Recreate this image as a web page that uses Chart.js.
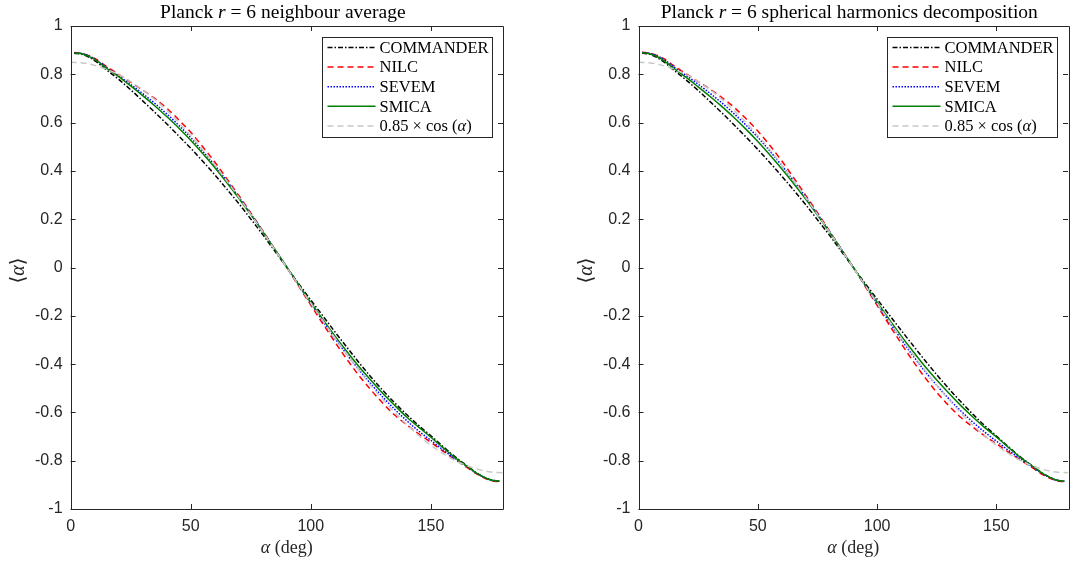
<!DOCTYPE html>
<html lang="en">
<head>
<meta charset="UTF-8">
<title>Planck r = 6 mean alpha</title>
<script src="https://cdn.jsdelivr.net/npm/chart.js"></script>
<style>
  body { margin: 0; background: #fff; }
  .panel { position: absolute; top: 0; width: 535px; height: 562px; }
</style>
</head>
<body>
<div class="panel" style="left:0"><canvas id="leftChart" width="535" height="562"></canvas></div>
<div class="panel" style="left:535px"><canvas id="rightChart" width="535" height="562"></canvas></div>
<script>
// angles (deg) where the map curves are sampled
const alpha = [1.5, 5, 10, 15, 20, 25, 30, 35, 40, 45, 50, 55, 60, 65, 70, 75, 80, 85, 90,
  95, 100, 105, 110, 115, 120, 125, 130, 135, 140, 145, 150, 155, 160, 165, 170, 175, 178.5];
// angles for the reference cosine curve
const cosX = [0, 5, 10, 15, 20, 25, 30, 35, 40, 45, 50, 55, 60, 65, 70, 75, 80, 85, 90,
  95, 100, 105, 110, 115, 120, 125, 130, 135, 140, 145, 150, 155, 160, 165, 170, 175, 180];
const cosRef = [0.850, 0.847, 0.837, 0.821, 0.799, 0.770, 0.736, 0.696, 0.651, 0.601, 0.546, 0.488, 0.425, 0.359, 0.291, 0.220, 0.148, 0.074, 0.000,
  -0.074, -0.148, -0.220, -0.291, -0.359, -0.425, -0.488, -0.546, -0.601, -0.651, -0.696, -0.736, -0.770, -0.799, -0.821, -0.837, -0.847, -0.850];

// left panel: neighbour average
const commanderL = [0.887, 0.882, 0.857, 0.818, 0.779, 0.736, 0.690, 0.643, 0.595, 0.545, 0.494, 0.440, 0.384, 0.325, 0.265, 0.201, 0.136, 0.068, 0.000,
  -0.068, -0.135, -0.200, -0.266, -0.330, -0.393, -0.453, -0.509, -0.561, -0.610, -0.655, -0.697, -0.741, -0.783, -0.821, -0.857, -0.880, -0.885];
const nilcL = [0.890, 0.886, 0.866, 0.832, 0.800, 0.768, 0.735, 0.700, 0.660, 0.612, 0.560, 0.500, 0.437, 0.368, 0.298, 0.226, 0.152, 0.076, 0.000,
  -0.078, -0.156, -0.233, -0.308, -0.380, -0.447, -0.507, -0.562, -0.612, -0.652, -0.690, -0.724, -0.760, -0.795, -0.828, -0.860, -0.882, -0.887];
const sevemL = [0.889, 0.885, 0.864, 0.828, 0.794, 0.758, 0.720, 0.680, 0.636, 0.589, 0.538, 0.482, 0.423, 0.359, 0.292, 0.222, 0.150, 0.076, 0.001,
  -0.074, -0.149, -0.222, -0.293, -0.360, -0.423, -0.482, -0.537, -0.588, -0.635, -0.678, -0.716, -0.755, -0.791, -0.825, -0.858, -0.880, -0.885];
const smicaL = [0.888, 0.884, 0.862, 0.825, 0.790, 0.752, 0.712, 0.670, 0.625, 0.578, 0.527, 0.472, 0.414, 0.352, 0.287, 0.219, 0.148, 0.075, 0.002,
  -0.072, -0.145, -0.215, -0.283, -0.348, -0.410, -0.467, -0.522, -0.572, -0.620, -0.662, -0.703, -0.746, -0.787, -0.823, -0.858, -0.880, -0.884];

// right panel: spherical harmonics decomposition
const commanderR = [0.888, 0.882, 0.856, 0.816, 0.776, 0.733, 0.687, 0.640, 0.591, 0.541, 0.489, 0.435, 0.379, 0.321, 0.261, 0.198, 0.134, 0.067, 0.000,
  -0.066, -0.131, -0.195, -0.259, -0.322, -0.384, -0.444, -0.501, -0.555, -0.606, -0.654, -0.698, -0.742, -0.784, -0.821, -0.856, -0.880, -0.886];
const nilcR = [0.891, 0.887, 0.868, 0.834, 0.802, 0.770, 0.738, 0.703, 0.664, 0.617, 0.565, 0.506, 0.442, 0.372, 0.300, 0.227, 0.152, 0.076, 0.000,
  -0.078, -0.157, -0.236, -0.313, -0.387, -0.455, -0.517, -0.572, -0.620, -0.660, -0.697, -0.730, -0.764, -0.797, -0.829, -0.861, -0.882, -0.887];
const sevemR = [0.890, 0.886, 0.865, 0.829, 0.795, 0.759, 0.721, 0.681, 0.637, 0.590, 0.539, 0.483, 0.423, 0.359, 0.292, 0.222, 0.150, 0.076, 0.001,
  -0.075, -0.150, -0.224, -0.296, -0.365, -0.429, -0.488, -0.543, -0.593, -0.639, -0.681, -0.719, -0.757, -0.792, -0.826, -0.858, -0.880, -0.885];
const smicaR = [0.889, 0.884, 0.861, 0.823, 0.787, 0.748, 0.708, 0.666, 0.621, 0.573, 0.522, 0.467, 0.409, 0.348, 0.284, 0.217, 0.147, 0.074, 0.001,
  -0.072, -0.144, -0.214, -0.282, -0.347, -0.409, -0.466, -0.520, -0.571, -0.618, -0.662, -0.702, -0.745, -0.786, -0.822, -0.857, -0.880, -0.885];

const xTicks = [0, 50, 100, 150];
const yTicks = [-1, -0.8, -0.6, -0.4, -0.2, 0, 0.2, 0.4, 0.6, 0.8, 1];
const yTickLabels = ['-1', '-0.8', '-0.6', '-0.4', '-0.2', '0', '0.2', '0.4', '0.6', '0.8', '1'];

const AXIS = '#262626';
const SERIF = '"Liberation Serif", "DejaVu Serif", serif';

// series styles, in legend order
const seriesStyle = [
  { name: 'COMMANDER', color: '#000000', dash: [5, 2, 1.5, 2] },
  { name: 'NILC', color: '#ff0000', dash: [6, 4] },
  { name: 'SEVEM', color: '#0000ff', dash: [1.5, 1.5] },
  { name: 'SMICA', color: '#008000', dash: [] },
  { name: 'cos', color: '#c8c8c8', dash: [6, 4] }
];
const legendText = [
  [{ t: 'COMMANDER' }], [{ t: 'NILC' }], [{ t: 'SEVEM' }], [{ t: 'SMICA' }],
  [{ t: '0.85 \u00d7 cos (' }, { t: '\u03b1', i: true }, { t: ')' }]
];

function pts(xs, ys) {
  return xs.map((x, i) => ({ x: x, y: ys[i] }));
}

function drawRich(ctx, parts, x, y, size, align) {
  let w = 0;
  parts.forEach(p => {
    ctx.font = (p.i ? 'italic ' : '') + size + 'px ' + SERIF;
    w += ctx.measureText(p.t).width;
  });
  let cx = align === 'center' ? x - w / 2 : x;
  parts.forEach(p => {
    ctx.font = (p.i ? 'italic ' : '') + size + 'px ' + SERIF;
    ctx.fillText(p.t, cx, y);
    cx += ctx.measureText(p.t).width;
  });
}

// box, inward ticks, titles and legend
const decorPlugin = {
  id: 'decor',
  afterDraw(chart, args, opts) {
    const ctx = chart.ctx;
    const a = chart.chartArea;
    const xs = chart.scales.x, ys = chart.scales.y;
    ctx.save();
    ctx.strokeStyle = AXIS;
    ctx.lineWidth = 1;
    ctx.setLineDash([]);
    ctx.beginPath();
    ctx.rect(Math.round(a.left) + 0.5, Math.round(a.top) + 0.5, Math.round(a.right - a.left), Math.round(a.bottom - a.top));
    xTicks.forEach(v => {
      const px = Math.round(xs.getPixelForValue(v)) + 0.5;
      ctx.moveTo(px, a.bottom); ctx.lineTo(px, a.bottom - 5);
      ctx.moveTo(px, a.top); ctx.lineTo(px, a.top + 5);
    });
    yTicks.forEach(v => {
      const py = Math.round(ys.getPixelForValue(v)) + 0.5;
      ctx.moveTo(a.left, py); ctx.lineTo(a.left + 5, py);
      ctx.moveTo(a.right, py); ctx.lineTo(a.right - 5, py);
    });
    ctx.stroke();

    // titles
    ctx.fillStyle = '#000';
    ctx.textBaseline = 'middle';
    const cx = (a.left + a.right) / 2;
    drawRich(ctx, opts.title, cx - 4, 13, 19.5, 'center');
    ctx.fillStyle = AXIS;
    drawRich(ctx, [{ t: '\u03b1', i: true }, { t: ' (deg)' }], cx, 548, 18, 'center');
    ctx.save();
    ctx.translate(a.left - 52, (a.top + a.bottom) / 2 + 3);
    ctx.rotate(-Math.PI / 2);
    drawRich(ctx, [{ t: '\u27e8' }, { t: '\u03b1', i: true }, { t: '\u27e9' }], 0, 0, 20, 'center');
    ctx.restore();

    // legend
    const bw = 170, bh = 100;
    const bx = Math.round(a.right - 11 - bw) + 0.5, by = Math.round(a.top + 11) + 0.5;
    ctx.fillStyle = '#fff';
    ctx.fillRect(bx, by, bw, bh);
    ctx.strokeStyle = AXIS;
    ctx.strokeRect(bx, by, bw, bh);
    seriesStyle.forEach((s, i) => {
      const ly = by + 10 + i * 19.6;
      ctx.beginPath();
      ctx.strokeStyle = s.color;
      ctx.lineWidth = 1.5;
      ctx.setLineDash(s.dash);
      ctx.moveTo(bx + 5, ly); ctx.lineTo(bx + 53, ly);
      ctx.stroke();
      ctx.setLineDash([]);
      ctx.fillStyle = '#000';
      drawRich(ctx, legendText[i], bx + 57, ly + 1, 16.5, 'left');
    });
    ctx.restore();
  }
};

function makeChart(id, title, yWidth, padRight, com, nil, sev, smi) {
  const sets = [com, nil, sev, smi];
  const datasets = seriesStyle.slice(0, 4).map((s, i) => ({
    label: s.name,
    data: pts(alpha, sets[i]),
    borderColor: s.color,
    borderDash: s.dash,
    borderWidth: 1.5,
    pointRadius: 0,
    cubicInterpolationMode: 'monotone',
    order: 5 - i
  }));
  datasets.push({
    label: '0.85 cos',
    data: pts(cosX, cosRef),
    borderColor: seriesStyle[4].color,
    borderDash: seriesStyle[4].dash,
    borderWidth: 1.5,
    pointRadius: 0,
    cubicInterpolationMode: 'monotone',
    order: 1
  });
  const tickFont = { family: '"Liberation Sans", Arial, sans-serif', size: 16 };
  return new Chart(document.getElementById(id), {
    type: 'line',
    data: { datasets: datasets },
    options: {
      responsive: false,
      animation: false,
      layout: { padding: { top: 26, right: padRight, left: 0, bottom: 0 } },
      scales: {
        x: {
          type: 'linear', min: 0, max: 180,
          afterBuildTicks: s => { s.ticks = xTicks.map(v => ({ value: v })); },
          afterFit: s => { s.height = 53; },
          grid: { display: false, drawTicks: false },
          border: { display: false },
          ticks: { color: AXIS, font: tickFont, padding: 8, maxRotation: 0, autoSkip: false }
        },
        y: {
          type: 'linear', min: -1, max: 1,
          afterBuildTicks: s => { s.ticks = yTicks.map(v => ({ value: v })); },
          afterFit: s => { s.width = yWidth; },
          grid: { display: false, drawTicks: false },
          border: { display: false },
          ticks: { color: AXIS, font: tickFont, padding: 8, autoSkip: false,
                   callback: (v, i) => yTickLabels[i] }
        }
      },
      plugins: {
        legend: { display: false },
        tooltip: { enabled: false },
        decor: { title: title }
      }
    },
    plugins: [decorPlugin]
  });
}

makeChart('leftChart',
  [{ t: 'Planck ' }, { t: 'r', i: true }, { t: ' = 6 neighbour average' }],
  70.6, 32, commanderL, nilcL, sevemL, smicaL);
makeChart('rightChart',
  [{ t: 'Planck ' }, { t: 'r', i: true }, { t: ' = 6 spherical harmonics decomposition' }],
  103.5, 2, commanderR, nilcR, sevemR, smicaR);
</script>
</body>
</html>
